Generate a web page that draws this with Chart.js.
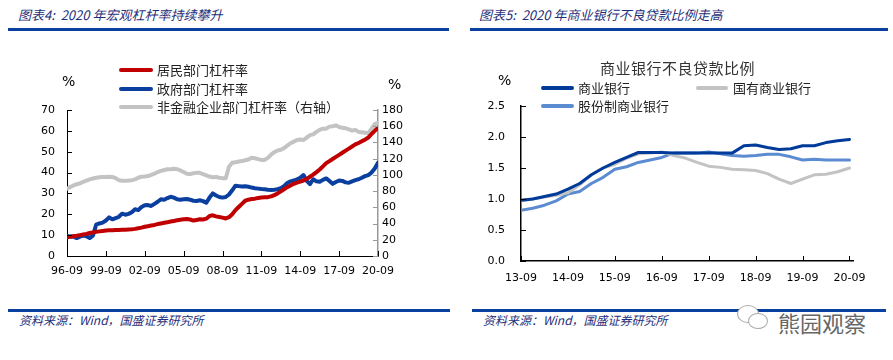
<!DOCTYPE html>
<html>
<head>
<meta charset="utf-8">
<script src="https://cdn.jsdelivr.net/npm/chart.js@4"></script>
<style>
  body { margin: 0; background: #fff; }
  #page { position: relative; width: 893px; height: 360px; overflow: hidden; background: #fff;
          font-family: "Noto Sans CJK SC", "DejaVu Sans", sans-serif; }
  .abs { position: absolute; white-space: nowrap; }
  .head { font-size: 13px; font-style: italic; color: #1f2f7a; line-height: 16px; }
  .rule { position: absolute; height: 3px; background: #0a40a0; }
  .src { font-size: 12px; font-style: italic; color: #1f2f7a; line-height: 14px; }
  .pct { font-family: "DejaVu Sans", sans-serif; font-size: 14px; color: #000; line-height: 16px; }
  .leg { font-size: 13px; color: #222; line-height: 16px; }
  .sw { position: absolute; height: 4px; border-radius: 2px; }
  canvas { position: absolute; }
</style>
</head>
<body>
<div id="page">
  <div class="abs head" style="left:18px; top:7px;">图表4:&nbsp;&nbsp;2020 年宏观杠杆率持续攀升</div>
  <div class="rule" style="left:8px; top:28px; width:441px;"></div>
  <div class="abs head" style="left:479px; top:7px;">图表5:&nbsp;&nbsp;2020 年商业银行不良贷款比例走高</div>
  <div class="rule" style="left:470px; top:28px; width:418px;"></div>

  <div style="position:absolute; left:0; top:0; width:450px; height:300px;">
    <canvas id="leftChart" width="450" height="300" style="left:0; top:0;"></canvas>
  </div>
  <div style="position:absolute; left:450px; top:0; width:443px; height:300px;">
    <canvas id="rightChart" width="443" height="300" style="left:0; top:0;"></canvas>
  </div>

  <!-- left chart extras -->
  <div class="abs pct" style="left:62px; top:73px;">%</div>
  <div class="abs pct" style="left:388px; top:76px;">%</div>
  <div class="sw" style="left:119px; top:68px; width:34px; background:#c00000;"></div>
  <div class="abs leg" style="left:157px; top:62px;">居民部门杠杆率</div>
  <div class="sw" style="left:119px; top:87px; width:34px; background:#0a3fa0;"></div>
  <div class="abs leg" style="left:157px; top:81px;">政府部门杠杆率</div>
  <div class="sw" style="left:119px; top:105px; width:34px; background:#c3c3c3;"></div>
  <div class="abs leg" style="left:157px; top:99px;">非金融企业部门杠杆率（右轴）</div>

  <!-- right chart extras -->
  <div class="abs" style="left:600px; top:57px; font-size:15px; color:#333; letter-spacing:0.5px;">商业银行不良贷款比例</div>
  <div class="abs pct" style="left:498px; top:72px;">%</div>
  <div class="sw" style="left:541px; top:86px; width:33px; background:#003b9a;"></div>
  <div class="abs leg" style="left:578px; top:80px;">商业银行</div>
  <div class="sw" style="left:696px; top:86px; width:32px; background:#c3c3c3;"></div>
  <div class="abs leg" style="left:733px; top:80px;">国有商业银行</div>
  <div class="sw" style="left:541px; top:104px; width:33px; background:#5b8bd0;"></div>
  <div class="abs leg" style="left:578px; top:98px;">股份制商业银行</div>

  <div class="rule" style="left:8px; top:309px; width:442px;"></div>
  <div class="rule" style="left:472px; top:309px; width:414px;"></div>
  <div class="abs src" style="left:19px; top:313px;">资料来源：Wind，国盛证券研究所</div>
  <div class="abs src" style="left:483px; top:313px;">资料来源：Wind，国盛证券研究所</div>

  <!-- watermark -->
  <div class="abs" style="left:737px; top:305px; width:20px; height:16px; border:1px solid #aaa; border-radius:50%; background:#fff;"></div>
  <div class="abs" style="left:748px; top:313px; width:18px; height:14px; border:1px solid #aaa; border-radius:50%; background:#fff;"></div>
  <div class="abs" style="left:778px; top:309px; font-size:22px; color:#666; line-height:26px; text-shadow:0 0 2px #fff;">熊园观察</div>
</div>

<script>
// 图表4 数据（季度，96-09 起）
const leftTickLabels = ['96-09', '99-09', '02-09', '05-09', '08-09', '11-09', '14-09', '17-09', '20-09'];
const householdLev = [
  9.0, 9.2, 9.5, 9.7, 10.0, 10.3, 10.6, 11.0, 11.3, 11.6, 11.8, 12.0,
  12.2, 12.3, 12.4, 12.5, 12.5, 12.6, 12.6, 12.7, 12.8, 13.0, 13.3, 13.6,
  14.0, 14.3, 14.6, 14.9, 15.3, 15.6, 15.9, 16.2, 16.5, 16.8, 17.1, 17.4,
  17.6, 17.7, 17.5, 17.0, 17.3, 17.6, 17.5, 17.9, 19.2, 19.5, 19.0, 18.7,
  18.4, 18.0, 18.6, 20.0, 22.0, 23.5, 25.0, 26.5, 27.0, 27.3, 27.5, 27.8,
  28.0, 28.2, 28.2, 28.6, 29.2, 30.0, 31.0, 32.0, 33.0, 33.8, 34.6, 35.2,
  35.7, 36.2, 37.0, 38.0, 39.0, 40.2, 41.5, 43.0, 44.5, 45.5, 46.5, 47.5,
  48.5, 49.5, 50.5, 51.5, 52.5, 53.5, 54.2, 55.0, 55.8, 56.8, 58.5, 60.0,
  61.5
];
const governmentLev = [
  9.6, 9.4, 9.3, 8.6, 9.3, 9.8, 9.5, 8.6, 9.8, 15.0, 15.6, 16.0,
  17.0, 18.5, 17.6, 18.2, 18.8, 20.3, 19.8, 20.2, 21.0, 22.4, 22.0, 23.5,
  24.3, 24.4, 24.0, 25.0, 26.0, 27.2, 27.0, 27.8, 28.4, 28.0, 27.2, 27.0,
  27.2, 27.3, 27.0, 26.5, 26.4, 26.7, 26.3, 25.5, 28.0, 30.0, 29.0, 28.3,
  28.0, 28.3, 29.5, 31.5, 33.7, 33.5, 33.3, 33.4, 33.2, 32.8, 32.5, 32.3,
  32.1, 32.0, 31.8, 31.7, 31.8, 32.0, 32.5, 33.5, 35.0, 35.8, 36.2, 36.8,
  37.5, 38.8, 36.0, 34.5, 36.8, 35.8, 35.6, 36.5, 37.2, 36.0, 34.6, 35.5,
  36.2, 36.0, 35.3, 35.1, 35.8, 36.4, 36.8, 37.5, 38.3, 38.8, 40.0, 42.0,
  44.7
];
const corporateLev = [
  83, 85, 87, 88.5, 89.5, 91.5, 93, 94.5, 95.5, 96.5, 97, 97.5,
  97.5, 97.8, 97.5, 96, 93.5, 92.8, 92.8, 93, 93.5, 94.5, 96.5, 97.8,
  98, 98.6, 100, 101.5, 103.5, 105, 106, 107, 107, 107.5, 107, 105.5,
  103.5, 101.5, 101, 102, 102.5, 102.5, 101, 99.5, 98, 97, 97.5, 96.5,
  96, 95.8, 110, 115, 115.5, 116.5, 117, 118, 119, 121, 120.5, 119.5,
  118.5, 118.5, 121, 125, 128, 130, 131, 133, 136, 139, 141, 143,
  143.5, 143, 146, 149, 150, 153, 155.5, 157, 157, 159.5, 160, 161,
  159, 158, 157.5, 156, 154.5, 155.5, 153, 152.5, 152, 151.5, 157, 162.5,
  164
];

// 图表5 数据（季度，13-09 起）
const rightTickLabels = ['13-09', '14-09', '15-09', '16-09', '17-09', '18-09', '19-09', '20-09'];
const nplAll = [
  0.98, 1.00, 1.04, 1.08, 1.16, 1.25, 1.39, 1.50, 1.59, 1.67,
  1.75, 1.75, 1.75, 1.74, 1.74, 1.74, 1.74, 1.74, 1.74, 1.86,
  1.87, 1.83, 1.80, 1.81, 1.86, 1.86, 1.91, 1.94, 1.96
];
const nplStateOwned = [
  0.97, 1.00, 1.03, 1.06, 1.10, 1.23, 1.39, 1.50, 1.56, 1.66,
  1.73, 1.74, 1.76, 1.70, 1.66, 1.59, 1.53, 1.51, 1.48, 1.47,
  1.46, 1.41, 1.32, 1.25, 1.32, 1.39, 1.40, 1.44, 1.50
];
const nplJointStock = [
  0.82, 0.85, 0.90, 0.97, 1.08, 1.12, 1.25, 1.35, 1.48, 1.52,
  1.59, 1.63, 1.67, 1.74, 1.74, 1.74, 1.76, 1.73, 1.70, 1.69,
  1.70, 1.72, 1.72, 1.68, 1.63, 1.64, 1.63, 1.63, 1.63
];

const toPoints = arr => arr.map((v, i) => ({ x: i, y: v }));
const tickFont = { family: "'DejaVu Sans', sans-serif", size: 11 };

// 刻度线画在坐标轴内侧
const innerTicks = {
  id: 'innerTicks',
  afterDraw(chart) {
    const ctx = chart.ctx;
    const area = chart.chartArea;
    ctx.save();
    ctx.lineWidth = 1;
    Object.values(chart.scales).forEach(scale => {
      ctx.strokeStyle = scale.options.border.color;
      scale.ticks.forEach(t => {
        const p = Math.round(scale.getPixelForValue(t.value)) + 0.5;
        ctx.beginPath();
        if (scale.axis === 'x') {
          ctx.moveTo(p, area.bottom);
          ctx.lineTo(p, area.bottom - 5);
        } else if (scale.position === 'left') {
          ctx.moveTo(area.left, p);
          ctx.lineTo(area.left + 5, p);
        } else {
          ctx.moveTo(area.right, p);
          ctx.lineTo(area.right - 5, p);
        }
        ctx.stroke();
      });
    });
    ctx.restore();
  }
};

function lineSet(data, color, width, axis) {
  return {
    data: toPoints(data),
    borderColor: color,
    borderWidth: width,
    pointRadius: 0,
    tension: 0,
    borderJoinStyle: 'round',
    borderCapStyle: 'round',
    yAxisID: axis
  };
}

new Chart(document.getElementById('leftChart'), {
  type: 'line',
  data: {
    datasets: [
      lineSet(householdLev, '#c00000', 4, 'y'),
      lineSet(governmentLev, '#0a3fa0', 4, 'y'),
      lineSet(corporateLev, '#c3c3c3', 4, 'y1')
    ]
  },
  options: {
    responsive: false,
    animation: false,
    layout: { padding: { top: 110, right: 22, left: 0, bottom: 0 } },
    plugins: { legend: { display: false }, tooltip: { enabled: false } },
    scales: {
      x: {
        type: 'linear',
        min: 0,
        max: 96,
        afterFit: s => { s.height = 44; },
        afterBuildTicks: s => { s.ticks = leftTickLabels.map((_, i) => ({ value: i * 12 })); },
        grid: { display: false, drawTicks: false },
        border: { color: '#000', width: 1 },
        ticks: {
          color: '#000', font: tickFont, padding: 9, maxRotation: 0, autoSkip: false,
          callback: v => leftTickLabels[v / 12]
        }
      },
      y: {
        position: 'left',
        min: 0,
        max: 70,
        afterFit: s => { s.width = 67; },
        grid: { display: false, drawTicks: false },
        border: { color: '#000', width: 1 },
        ticks: { stepSize: 10, color: '#000', font: tickFont, padding: 12 }
      },
      y1: {
        position: 'right',
        min: 0,
        max: 180,
        afterFit: s => { s.width = 50; },
        grid: { display: false, drawTicks: false },
        border: { color: '#999', width: 1.5 },
        ticks: { stepSize: 20, color: '#000', font: tickFont, padding: 4 }
      }
    }
  },
  plugins: [innerTicks]
});

new Chart(document.getElementById('rightChart'), {
  type: 'line',
  data: {
    datasets: [
      lineSet(nplAll, '#003b9a', 3, 'y'),
      lineSet(nplStateOwned, '#c3c3c3', 3, 'y'),
      lineSet(nplJointStock, '#5b8bd0', 3, 'y')
    ]
  },
  options: {
    responsive: false,
    animation: false,
    layout: { padding: { top: 106, right: 40, left: 0, bottom: 0 } },
    plugins: { legend: { display: false }, tooltip: { enabled: false } },
    scales: {
      x: {
        type: 'linear',
        min: 0,
        max: 28.3,
        afterFit: s => { s.height = 39; },
        afterBuildTicks: s => { s.ticks = rightTickLabels.map((_, i) => ({ value: i * 4 })); },
        grid: { display: false, drawTicks: false },
        border: { color: '#000', width: 1.5 },
        ticks: {
          color: '#000', font: tickFont, padding: 11, maxRotation: 0, autoSkip: false,
          callback: v => rightTickLabels[v / 4]
        }
      },
      y: {
        position: 'left',
        min: 0,
        max: 2.5,
        afterFit: s => { s.width = 71; },
        grid: { display: false, drawTicks: false },
        border: { color: '#000', width: 1.5 },
        ticks: { stepSize: 0.5, color: '#000', font: tickFont, padding: 16, callback: v => v.toFixed(1) }
      }
    }
  },
  plugins: [innerTicks]
});
</script>
</body>
</html>
